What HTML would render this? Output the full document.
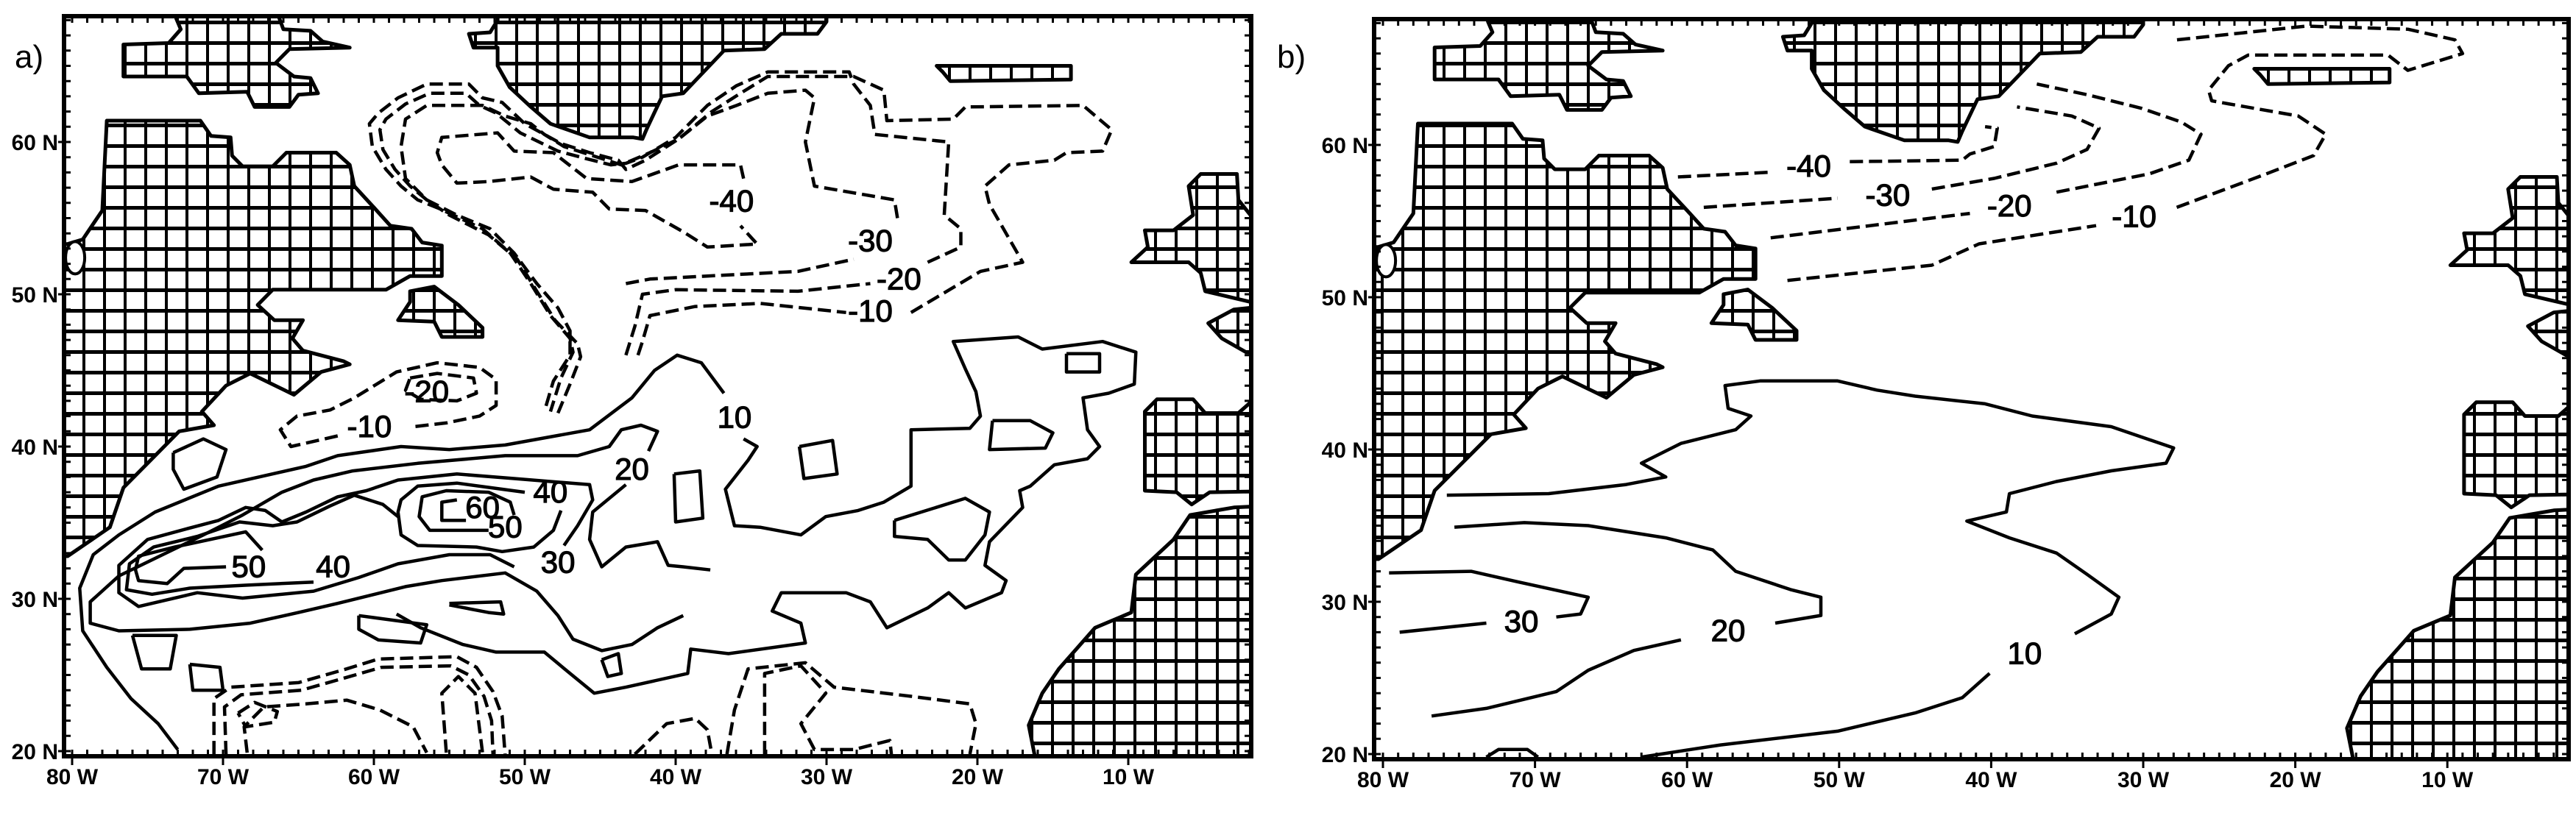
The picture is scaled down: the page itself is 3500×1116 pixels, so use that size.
<!DOCTYPE html>
<html><head><meta charset="utf-8"><title>SST anomaly contour maps</title>
<style>
html,body{margin:0;padding:0;background:#fff;}
svg{display:block;}
text{font-family:"Liberation Sans Narrow","Liberation Sans",sans-serif;fill:#000;}
</style></head>
<body>
<svg id="fig" xmlns="http://www.w3.org/2000/svg" width="3500" height="1116" viewBox="0 0 3500 1116">
<defs>
<pattern id="hatch" width="28" height="28" patternUnits="userSpaceOnUse">
<rect width="28" height="28" fill="#fff"/>
<path d="M0 2.5H28" stroke="#000" stroke-width="5"/>
<path d="M2 0V28" stroke="#000" stroke-width="4"/>
</pattern>
<clipPath id="clipA"><rect x="87" y="22" width="1613" height="1006"/></clipPath>
<clipPath id="clipB"><rect x="1867" y="26" width="1623" height="1006"/></clipPath>
</defs>
<rect width="3500" height="1116" fill="#fff"/>
<text x="20" y="92" font-size="44" style="font-family:'Liberation Sans',sans-serif">a)</text>
<text x="1735" y="92" font-size="44" style="font-family:'Liberation Sans',sans-serif">b)</text>
<g id="panelA"></g>
<g id="panelB"></g>
</svg>
<script>
// ---------- axis tick data ----------
const lonTicks = [80,70,60,50,40,30,20,10];
const latTicks = [20,30,40,50,60];

// ---------- land polygons [deg W, deg N] ----------
const landBaffin = [[76.6,66.4],[73.6,66.5],[72.8,67.4],[73.1,68.1],[73.1,69],[66.3,69],[66.3,68.2],[66.0,67.4],[64.2,67.3],[63.4,66.6],[61.6,66.2],[65.6,66.1],[66.5,65.2],[65.3,64.3],[64.2,64.2],[63.7,63.2],[65.0,63.1],[65.6,62.3],[67.9,62.3],[68.4,63.3],[71.6,63.2],[72.4,64.3],[76.6,64.3]];
const landCanada = [[77.7,61.4],[71.5,61.4],[70.8,60.4],[69.5,60.3],[69.4,59.1],[68.7,58.4],[66.7,58.4],[65.8,59.3],[62.5,59.3],[61.6,58.5],[61.3,57.1],[60.0,55.7],[58.9,54.5],[57.5,54.3],[56.8,53.4],[55.5,53.2],[55.5,51.2],[57.6,51.2],[59.2,50.3],[66.7,50.3],[67.7,49.3],[66.6,48.3],[64.7,48.3],[65.4,47.1],[64.7,46.3],[62.0,45.6],[61.6,45.4],[63.5,44.9],[65.3,43.4],[68.2,44.8],[69.8,44.0],[71.4,42.3],[70.6,41.4],[72.9,41.0],[76.6,37.3],[77.5,34.7],[80.3,32.8],[82,32.8],[82,53.3],[80.3,53.3],[79.3,53.6],[78.0,55.5]];
const landNewfoundland = [[57.6,50.2],[57.6,49.5],[58.4,48.3],[56.0,48.2],[55.5,47.2],[52.8,47.2],[52.8,47.8],[54.4,49.3],[56.0,50.5]];
const landGreenland = [[53.7,67.1],[52.3,67.2],[51.8,68.0],[51.8,69],[30.0,69],[30.0,67.9],[30.6,67.1],[33.0,67.1],[34.1,66.1],[36.8,66.0],[39.5,63.2],[40.9,63.0],[41.9,60.9],[42.2,60.2],[42.8,60.3],[45.7,60.3],[48.3,61.2],[49.7,62.4],[51.0,63.6],[51.8,65.0],[51.8,66.2],[53.4,66.2]];
const landIceland = [[22.7,65.0],[13.8,65.0],[13.8,64.1],[21.8,64.0],[22.3,64.6]];
const landBritain = [[8.9,54.2],[7.0,54.2],[5.7,55.2],[6.0,57.1],[5.2,57.9],[2.8,57.9],[2.7,56.2],[1.9,55.2],[-1,55.2],[-1,49.5],[1.9,49.5],[4.9,50.2],[5.2,51.4],[6.0,52.1],[9.8,52.1],[8.7,53.1]];
const landFrance = [[-1,49.4],[3.0,49.0],[4.7,48.1],[3.8,47.1],[2.2,46.2],[-1,46.1]];
const landIberia = [[8.9,42.3],[8.1,43.1],[5.7,43.1],[4.9,42.2],[2.7,42.2],[1.9,42.9],[-1,42.9],[-1,37.1],[4.6,37.0],[5.8,36.2],[6.8,37.0],[8.9,37.1]];
const landAfrica = [[5.9,35.5],[3,36.0],[-1,36.2],[-1,18],[16.2,18],[16.2,19.7],[16.6,21.7],[15.7,23.8],[14.6,25.4],[12.2,28.1],[9.8,29.1],[9.5,31.6],[7.0,33.9]];
const landNames = ['baffin-island','canada-coast','newfoundland','greenland','iceland','britain','france','iberia','africa'];
const landShapes = [landBaffin,landCanada,landNewfoundland,landGreenland,landIceland,landBritain,landFrance,landIberia,landAfrica];

// ---------- panel a contours ----------
const aM10a = [[42.5,46.0],[42.2,46.9],[41.7,48.6],[38.7,49.2],[34.4,49.4],[28.7,48.8]];
const aM10b = [[24.4,48.8],[19.8,51.5],[17.0,52.1],[19.2,55.9],[19.5,57.1],[17.9,58.5],[14.9,58.8],[14.1,59.3],[11.7,59.4],[11.1,60.8],[13.0,62.4],[20.8,62.3],[21.6,61.5],[26.0,61.4],[26.2,63.4],[28.2,64.3],[33.9,64.3],[35.7,63.2],[37.6,62.0],[39.8,60.2],[42.0,58.8],[43.3,58.2],[43.8,58.8],[45.7,59.3],[47.6,59.9],[50.0,61.2],[51.5,62.6],[52.8,62.9],[53.7,63.8],[56.5,63.8],[58.4,62.9],[59.7,61.9],[60.3,61.2],[60.1,59.7],[59.2,58.2],[58.2,57.1],[57.1,56.2],[55.6,55.6],[52.8,54.3],[50.96,52.7],[49.6,50.7],[48.3,48.6],[47.0,47.1],[46.8,46.2],[47.6,44.5],[48.3,42.3]];
const aM20a = [[43.3,46.0],[42.7,47.9],[42.2,50.0],[40.0,50.3],[31.9,50.2],[27.1,50.7]];
const aM20b = [[23.3,52.1],[21.1,53.1],[21.1,54.3],[22.2,55.2],[21.9,60.0],[26.8,60.5],[27.1,62.4],[28.2,63.8],[28.5,64.6],[33.9,64.6],[35.96,63.7],[37.9,62.4],[40.0,60.3],[42.2,59.0],[43.3,58.6],[44.3,58.5],[45.9,58.9],[47.8,59.4],[50.3,60.6],[51.9,61.9],[53.0,62.4],[53.9,63.2],[56.3,63.2],[57.9,62.5],[59.2,61.5],[59.6,60.8],[59.4,59.5],[58.6,58.2],[57.6,57.1],[56.5,56.2],[55.0,55.2],[52.4,53.9],[50.5,52.3],[49.2,50.2],[48.0,48.3],[46.5,46.75],[46.3,45.9],[47.0,44.1],[47.8,42.2]];
const aM30a = [[43.3,50.7],[41.7,51.0],[37.9,51.2],[31.9,51.5],[28.2,52.3]];
const aM30b = [[25.3,55.0],[25.5,56.2],[30.8,57.1],[31.4,60.0],[30.8,62.9],[31.4,63.4],[33.9,63.2],[35.96,62.4],[37.9,61.7],[39.8,60.2],[41.7,59.3],[43.6,58.5],[45.5,59.1],[47.4,59.7],[48.7,60.5],[49.6,61.2],[51.3,61.7],[52.8,62.4],[56.5,62.4],[57.9,61.5],[58.2,59.7],[57.9,57.6],[56.5,56.2],[54.5,55.2],[52.3,54.3],[50.7,52.7],[49.2,50.7],[47.8,49.1],[47.0,47.6],[47.0,46.0],[48.1,44.3],[48.7,42.3]];
const aM40 = [[35.5,57.6],[35.7,58.5],[39.8,58.5],[42.9,57.4],[45.9,57.6],[48.1,59.3],[50.7,59.4],[51.8,60.6],[55.5,60.3],[55.8,59.3],[55.5,58.5],[54.5,57.3],[52.4,57.4],[49.6,57.7],[48.1,56.9],[45.5,56.7],[44.4,55.6],[42.0,55.5],[39.5,54.1],[37.9,53.1],[34.6,53.3],[35.7,54.5]];
const aM20loop = [[57.6,44.5],[55.8,44.8],[53.4,44.5],[53.2,43.5],[54.5,43.0],[56.9,43.1],[57.9,43.7],[57.6,44.5]];
const aM10west = [[62.4,40.7],[65.5,40.0],[66.2,41.1],[65.1,42.0],[62.9,42.4],[61.3,43.2],[58.5,44.9],[55.8,45.5],[53.0,45.2],[51.9,44.4],[51.9,42.7],[53.0,42.0],[55.2,41.55],[57.4,41.3]];
const aS1 = [[70.6,19.8],[70.6,23.45],[69.5,24.2],[65.0,24.5],[61.8,25.4],[59.7,26.05],[54.5,26.2],[53.2,25.5],[52.1,23.9],[51.5,22.3],[51.3,19.7]];
const aS2 = [[69.8,19.8],[69.9,22.9],[68.8,23.7],[64.8,24.0],[61.6,24.9],[59.5,25.5],[54.9,25.6],[53.7,25.0],[52.7,23.6],[52.2,22.0],[52.1,19.7]];
const aS3 = [[69.0,22.5],[67.9,23.2],[66.4,22.6],[66.6,21.9],[68.5,21.6],[69.0,22.5]];
const aS4 = [[68.4,19.9],[68.6,21.6],[67.3,22.9],[64.5,23.1],[61.8,23.35],[59.6,22.7],[57.4,21.6],[56.5,19.9]];
const aS5 = [[55.2,19.9],[55.5,23.8],[54.4,24.9],[53.3,23.8],[52.8,19.9]];
const aS6 = [[42.7,19.8],[40.6,21.8],[38.7,22.15],[37.9,21.4],[37.6,19.8]];
const aS7 = [[36.6,19.8],[36.1,22.7],[35.2,25.4],[31.4,25.8],[29.5,24.2],[24.4,23.6],[20.5,23.1],[20.1,21.8],[20.5,19.8]];
const aS8 = [[34.1,19.8],[34.1,25.1],[31.7,25.6],[30.05,23.8],[31.7,21.8],[30.8,20.1],[28.2,20.1],[25.8,20.7],[25.7,19.8]];
const aP10a = [[73.0,20.1],[74.3,21.8],[76.1,23.45],[77.7,25.5],[79.3,27.9],[79.5,30.7],[78.6,32.9],[76.9,34.2],[74.5,35.7],[70.3,37.4],[64.5,38.7],[62.4,39.4],[58.2,40.0],[55.0,39.8],[51.3,40.1],[45.7,41.1],[42.9,43.2],[41.4,45.0],[39.9,46.0],[38.3,45.5],[36.8,43.5]];
const aP10b = [[35.5,40.5],[34.6,40.0],[35.2,39.1],[36.7,37.2],[36.1,34.8],[34.4,34.7],[31.7,34.2],[30.05,35.4],[27.9,35.8],[26.2,36.35],[24.4,37.4],[24.4,41.1],[20.5,41.2],[19.8,42.0],[20.1,43.6],[20.8,45.1],[21.6,46.9],[17.3,47.2],[15.7,46.4],[11.7,46.9],[9.5,46.2],[9.6,44.1],[11.3,43.5],[13.0,43.2],[12.7,41.1],[11.9,40.0],[12.7,39.2],[14.9,38.8],[16.5,37.4],[17.2,37.1],[17.0,36.0],[19.2,33.75],[19.5,32.2],[18.1,31.2],[18.4,30.4],[20.8,29.4],[21.9,30.4],[23.3,29.4],[26.0,28.1],[27.1,29.8],[28.7,30.4],[33.0,30.4],[33.6,29.2],[31.7,28.4],[31.4,27.1],[36.5,26.4],[39.0,26.7],[39.2,25.1],[43.3,24.2],[45.4,23.8],[47.0,25.1],[48.7,26.5],[51.9,26.5],[54.1,27.0],[56.9,28.1],[58.5,29.0]];
const aP20a = [[39.5,28.9],[41.2,28.1],[42.9,27.0],[44.9,26.6],[46.8,27.35],[47.8,28.9],[49.2,30.5],[51.3,31.7],[55.5,31.2],[57.9,30.8],[62.4,29.7],[65.0,29.1],[68.2,28.4],[72.2,28.0],[76.9,27.9],[78.8,28.4],[78.8,29.8],[76.9,31.5],[74.0,32.9],[71.3,34.2],[68.7,35.5],[66.1,37.0],[64.0,37.8],[61.4,38.4],[57.1,38.9],[51.3,39.4],[46.5,39.4],[44.4,40.0],[43.6,41.1],[42.3,41.4],[41.2,41.0],[41.8,39.7]];
const aP20b = [[43.3,37.5],[45.5,35.7],[45.7,33.9],[44.9,32.1],[43.3,33.4],[41.2,33.75],[40.5,32.2],[39.5,32.1],[37.7,31.9]];
const aP30 = [[50.7,32.1],[52.3,32.9],[55.0,32.9],[58.4,32.3],[61.0,31.4],[64.0,30.5],[68.7,30.05],[71.7,30.4],[75.6,29.5],[76.9,30.4],[76.9,32.2],[75.0,33.9],[72.4,34.6],[70.3,35.15],[68.5,36.0],[67.2,35.8],[66.1,35.05],[64.5,35.7],[62.4,36.7],[60.5,37.1],[58.4,37.8],[54.5,38.2],[50.7,37.9],[45.7,37.5],[45.5,36.5],[46.5,34.8],[47.4,33.5]];
const aP40w = [[64.0,31.1],[68.4,30.9],[72.2,30.7],[74.7,30.3],[76.4,30.6],[76.2,32.3],[74.6,33.4],[71.7,34.1],[68.9,35.05],[66.7,34.8],[65.1,35.05],[62.9,36.1],[61.3,36.8],[59.4,36.2],[58.4,35.4]];
const aP40e = [[50.0,37.0],[51.5,37.2],[54.5,37.6],[57.1,37.4],[58.2,36.5],[58.4,35.7],[58.2,34.2],[57.1,33.5],[53.2,33.4],[51.5,33.1],[49.4,33.4],[48.1,34.5],[47.6,35.8]];
const aP50w = [[67.4,33.2],[68.5,34.4],[73.2,33.4],[75.6,32.8],[75.8,31.9],[75.6,31.2],[73.7,31.0],[72.6,32.0],[69.8,32.1]];
const aP50e = [[52.4,34.5],[56.3,34.5],[57.0,35.4],[56.8,36.7],[55.2,37.1],[52.4,37.0],[50.96,36.35],[50.7,35.5]];
const aP60 = [[54.5,36.5],[55.5,36.35],[55.5,35.15],[53.9,35.15]];
const aL1 = [[40.1,38.2],[38.4,38.4],[38.2,35.3],[40.0,35.05],[40.1,38.2]];
const aL2 = [[31.8,40.0],[29.6,40.4],[29.3,38.2],[31.5,37.9],[31.8,40.0]];
const aL3 = [[19.0,41.7],[16.5,41.7],[15.0,40.9],[15.5,39.9],[19.2,39.8],[19.0,41.7]];
const aL5 = [[25.5,35.15],[20.8,36.6],[19.2,35.7],[19.5,34.2],[20.8,32.55],[21.9,32.55],[23.3,33.9],[25.5,34.1],[25.5,35.15]];
const aL6 = [[44.9,26.0],[43.8,26.4],[43.6,25.1],[44.5,24.9],[44.9,26.0]];
const aL7 = [[55.0,29.7],[51.6,29.8],[51.4,29.0],[52.4,29.1],[55.0,29.6]];
const aL8 = [[61.0,28.9],[56.5,28.3],[56.9,27.1],[59.7,27.3],[61.0,28.0],[61.0,28.9]];
const aL9 = [[76.0,27.6],[73.1,27.6],[73.5,25.4],[75.4,25.4],[76.0,27.6]];
const aL10 = [[72.2,25.7],[70.2,25.5],[70.0,24.0],[72.0,24.0],[72.2,25.7]];
const aL11 = [[73.3,39.6],[71.3,40.5],[69.8,39.8],[70.4,38.0],[72.6,37.2],[73.3,38.5],[73.3,39.6]];
const aL12 = [[14.1,46.1],[11.9,46.1],[11.9,44.9],[14.1,44.9],[14.1,46.1]];
const aDashed = [aM10a,aM10b,aM20a,aM20b,aM30a,aM30b,aM40,aM20loop,aM10west,aS1,aS2,aS3,aS4,aS5,aS6,aS7,aS8];
const aSolid = [aP10a,aP10b,aP20a,aP20b,aP30,aP40w,aP40e,aP50w,aP50e,aP60,aL1,aL2,aL3,aL5,aL6,aL7,aL8,aL9,aL10,aL11,aL12];
const aLabelText = ['-40','-30','-20','-10','-20','-10','10','20','40','60','50','30','50','40'];
const aLabelPos = [[36.3,56.1],[27.1,53.5],[25.2,51.0],[27.1,48.9],[56.5,43.6],[60.3,41.3],[36.1,41.9],[42.9,38.5],[48.3,37.0],[52.8,36.0],[51.3,34.7],[47.8,32.4],[68.3,32.1],[62.7,32.1]];

// ---------- panel b contours ----------
const bM40a = [[60.6,57.9],[54.7,58.2]];
const bM40b = [[49.3,58.9],[41.9,59.0],[41.4,59.4],[39.8,59.9],[39.6,61.1],[40.4,61.2]];
const bM30a = [[58.9,55.9],[50.1,56.5]];
const bM30b = [[43.9,57.1],[39.8,57.8],[35.7,58.8],[33.7,59.7],[32.9,61.1],[34.7,61.9],[38.3,62.5]];
const bM20a = [[54.5,53.9],[41.4,55.5]];
const bM20b = [[35.7,56.9],[29.6,58.1],[27.0,59.0],[26.2,60.7],[27.5,61.5],[30.1,62.4],[33.7,63.3],[37.0,64.0]];
const bM10a = [[53.4,51.1],[43.9,52.1],[40.8,53.5],[33.1,54.7]];
const bM10b = [[27.8,55.9],[21.9,58.1],[18.8,59.3],[18.0,60.7],[19.8,61.9],[24.4,62.7],[25.5,62.9],[25.7,63.6],[24.4,65.2],[23.1,65.9],[13.9,65.9],[12.6,64.9],[9.0,66.0],[9.5,66.9],[12.6,67.6],[19.3,67.8],[27.8,66.9]];
const bP10a = [[75.8,37.0],[69.1,37.1],[64.0,37.7],[61.4,38.2],[63.0,39.1],[60.4,40.4],[56.8,41.3],[55.8,42.2],[57.3,42.7],[57.5,44.2],[55.2,44.5],[50.1,44.5],[47.5,43.9],[45.0,43.5],[40.4,43.0],[37.3,42.2],[32.1,41.5],[28.0,40.1],[28.5,39.1],[32.1,38.6],[35.7,37.9],[38.8,37.1],[39.0,35.9],[41.6,35.3],[38.8,34.2],[35.7,33.2],[33.7,31.8],[31.6,30.3],[32.1,29.2],[34.5,27.9]];
const bP10b = [[40.1,25.3],[41.9,23.7],[45.0,22.7],[50.1,21.5],[57.8,20.6],[63.0,19.8]];
const bP20a = [[75.3,34.9],[70.7,35.2],[66.5,35.0],[61.4,34.2],[58.3,33.4],[56.8,32.0],[53.2,30.8],[51.2,30.3],[51.2,29.1],[54.2,28.6]];
const bP20b = [[60.4,27.5],[63.5,26.8],[66.5,25.5],[68.6,24.1],[73.2,23.0],[76.8,22.5]];
const bP30a = [[79.6,31.9],[74.2,32.0],[71.1,31.3],[66.5,30.3],[67.0,29.2],[68.6,29.0]];
const bP30b = [[73.2,28.6],[78.9,28.0]];
const bP0 = [[73.2,19.8],[72.4,20.3],[70.5,20.3],[69.8,19.8]];
const bDashed = [bM40a,bM40b,bM30a,bM30b,bM20a,bM20b,bM10a,bM10b];
const bSolid = [bP10a,bP10b,bP20a,bP20b,bP30a,bP30b,bP0];
const bLabelText = ['-40','-30','-20','-10','10','20','30'];
const bLabelPos = [[52.0,58.6],[46.8,56.7],[38.8,56.0],[30.6,55.3],[37.8,26.6],[57.3,28.1],[70.9,28.7]];

// ---------- axis functions ----------
const panels = {
  a:{x0:87,y0:22,x1:1700,y1:1028,lonRef:98,lonScale:20.5,latRef:193,latScale:20.7,clip:'clipA',g:'panelA'},
  b:{x0:1867,y0:26,x1:3490,y1:1032,lonRef:1879,lonScale:20.66,latRef:197,latScale:20.7,clip:'clipB',g:'panelB'}
};
function xScale(p,lon){return p.lonRef+(80-lon)*p.lonScale;}
function yScale(p,lat){return p.latRef+(60-lat)*p.latScale;}
const NS='http://www.w3.org/2000/svg';
function mk(tag,attrs,parent){const e=document.createElementNS(NS,tag);for(const k in attrs)e.setAttribute(k,attrs[k]);parent.appendChild(e);return e;}
function pathD(p,pts,close){return pts.map((q,i)=>(i?'L':'M')+xScale(p,q[0]).toFixed(1)+' '+yScale(p,q[1]).toFixed(1)).join('')+(close?'Z':'');}

function drawPanel(key,dashed,solid,labText,labPos){
  const p=panels[key];
  const g=document.getElementById(p.g);
  const inner=mk('g',{'clip-path':'url(#'+p.clip+')'},g);
  
  
  landShapes.forEach((poly,i)=>{
    const e=mk('path',{d:pathD(p,poly,true),fill:'url(#hatch)',stroke:'#000','stroke-width':5,'stroke-linejoin':'round'},inner);
    
    
  });
  const lake=mk('ellipse',{cx:xScale(p,79.8),cy:yScale(p,52.4),rx:13,ry:22,fill:'#fff',stroke:'#000','stroke-width':4},inner);
  
  
  dashed.forEach((pts,i)=>{
    const e=mk('path',{d:pathD(p,pts,false),fill:'none',stroke:'#000','stroke-width':4.5,'stroke-dasharray':'18 8','stroke-linejoin':'round'},inner);
    
    
  });
  solid.forEach((pts,i)=>{
    const e=mk('path',{d:pathD(p,pts,false),fill:'none',stroke:'#000','stroke-width':4.5,'stroke-linejoin':'round'},inner);
    
    
  });
  labText.forEach((t,i)=>{
    const e=mk('text',{x:xScale(p,labPos[i][0]),y:yScale(p,labPos[i][1])+14,'font-size':42,'text-anchor':'middle',stroke:'#000','stroke-width':1.2},inner);
    e.textContent=t;
    
    
  });
  const fr=mk('rect',{x:p.x0,y:p.y0,width:p.x1-p.x0,height:p.y1-p.y0,fill:'none',stroke:'#000','stroke-width':6},g);
  
  
  let d='';
  for(let lon=80;lon>=2;lon--){const x=xScale(p,lon);d+='M'+x+' '+p.y1+'v-9M'+x+' '+p.y0+'v9';}
  for(let lat=20;lat<=68;lat++){const y=yScale(p,lat);d+='M'+p.x0+' '+y+'h9M'+p.x1+' '+y+'h-9';}
  const tk=mk('path',{d:d,stroke:'#000','stroke-width':3,fill:'none'},g);
  
  
  lonTicks.forEach(v=>{
    const x=xScale(p,v);
    const t=mk('path',{d:'M'+x+' '+p.y1+'v12',stroke:'#000','stroke-width':3},g);
    
    
    const e=mk('text',{x:x,y:p.y1+38,'font-size':30,'font-weight':'bold','text-anchor':'middle'},g);
    e.textContent=v+' W';
    
    
  });
  latTicks.forEach(v=>{
    const y=yScale(p,v);
    const t=mk('path',{d:'M'+p.x0+' '+y+'h-8',stroke:'#000','stroke-width':3},g);
    
    
    const e=mk('text',{x:p.x0-8,y:y+11,'font-size':30,'font-weight':'bold','text-anchor':'end'},g);
    e.textContent=v+' N';
    
    
  });
}
drawPanel('a',aDashed,aSolid,aLabelText,aLabelPos);
drawPanel('b',bDashed,bSolid,bLabelText,bLabelPos);
</script>
</body></html>
